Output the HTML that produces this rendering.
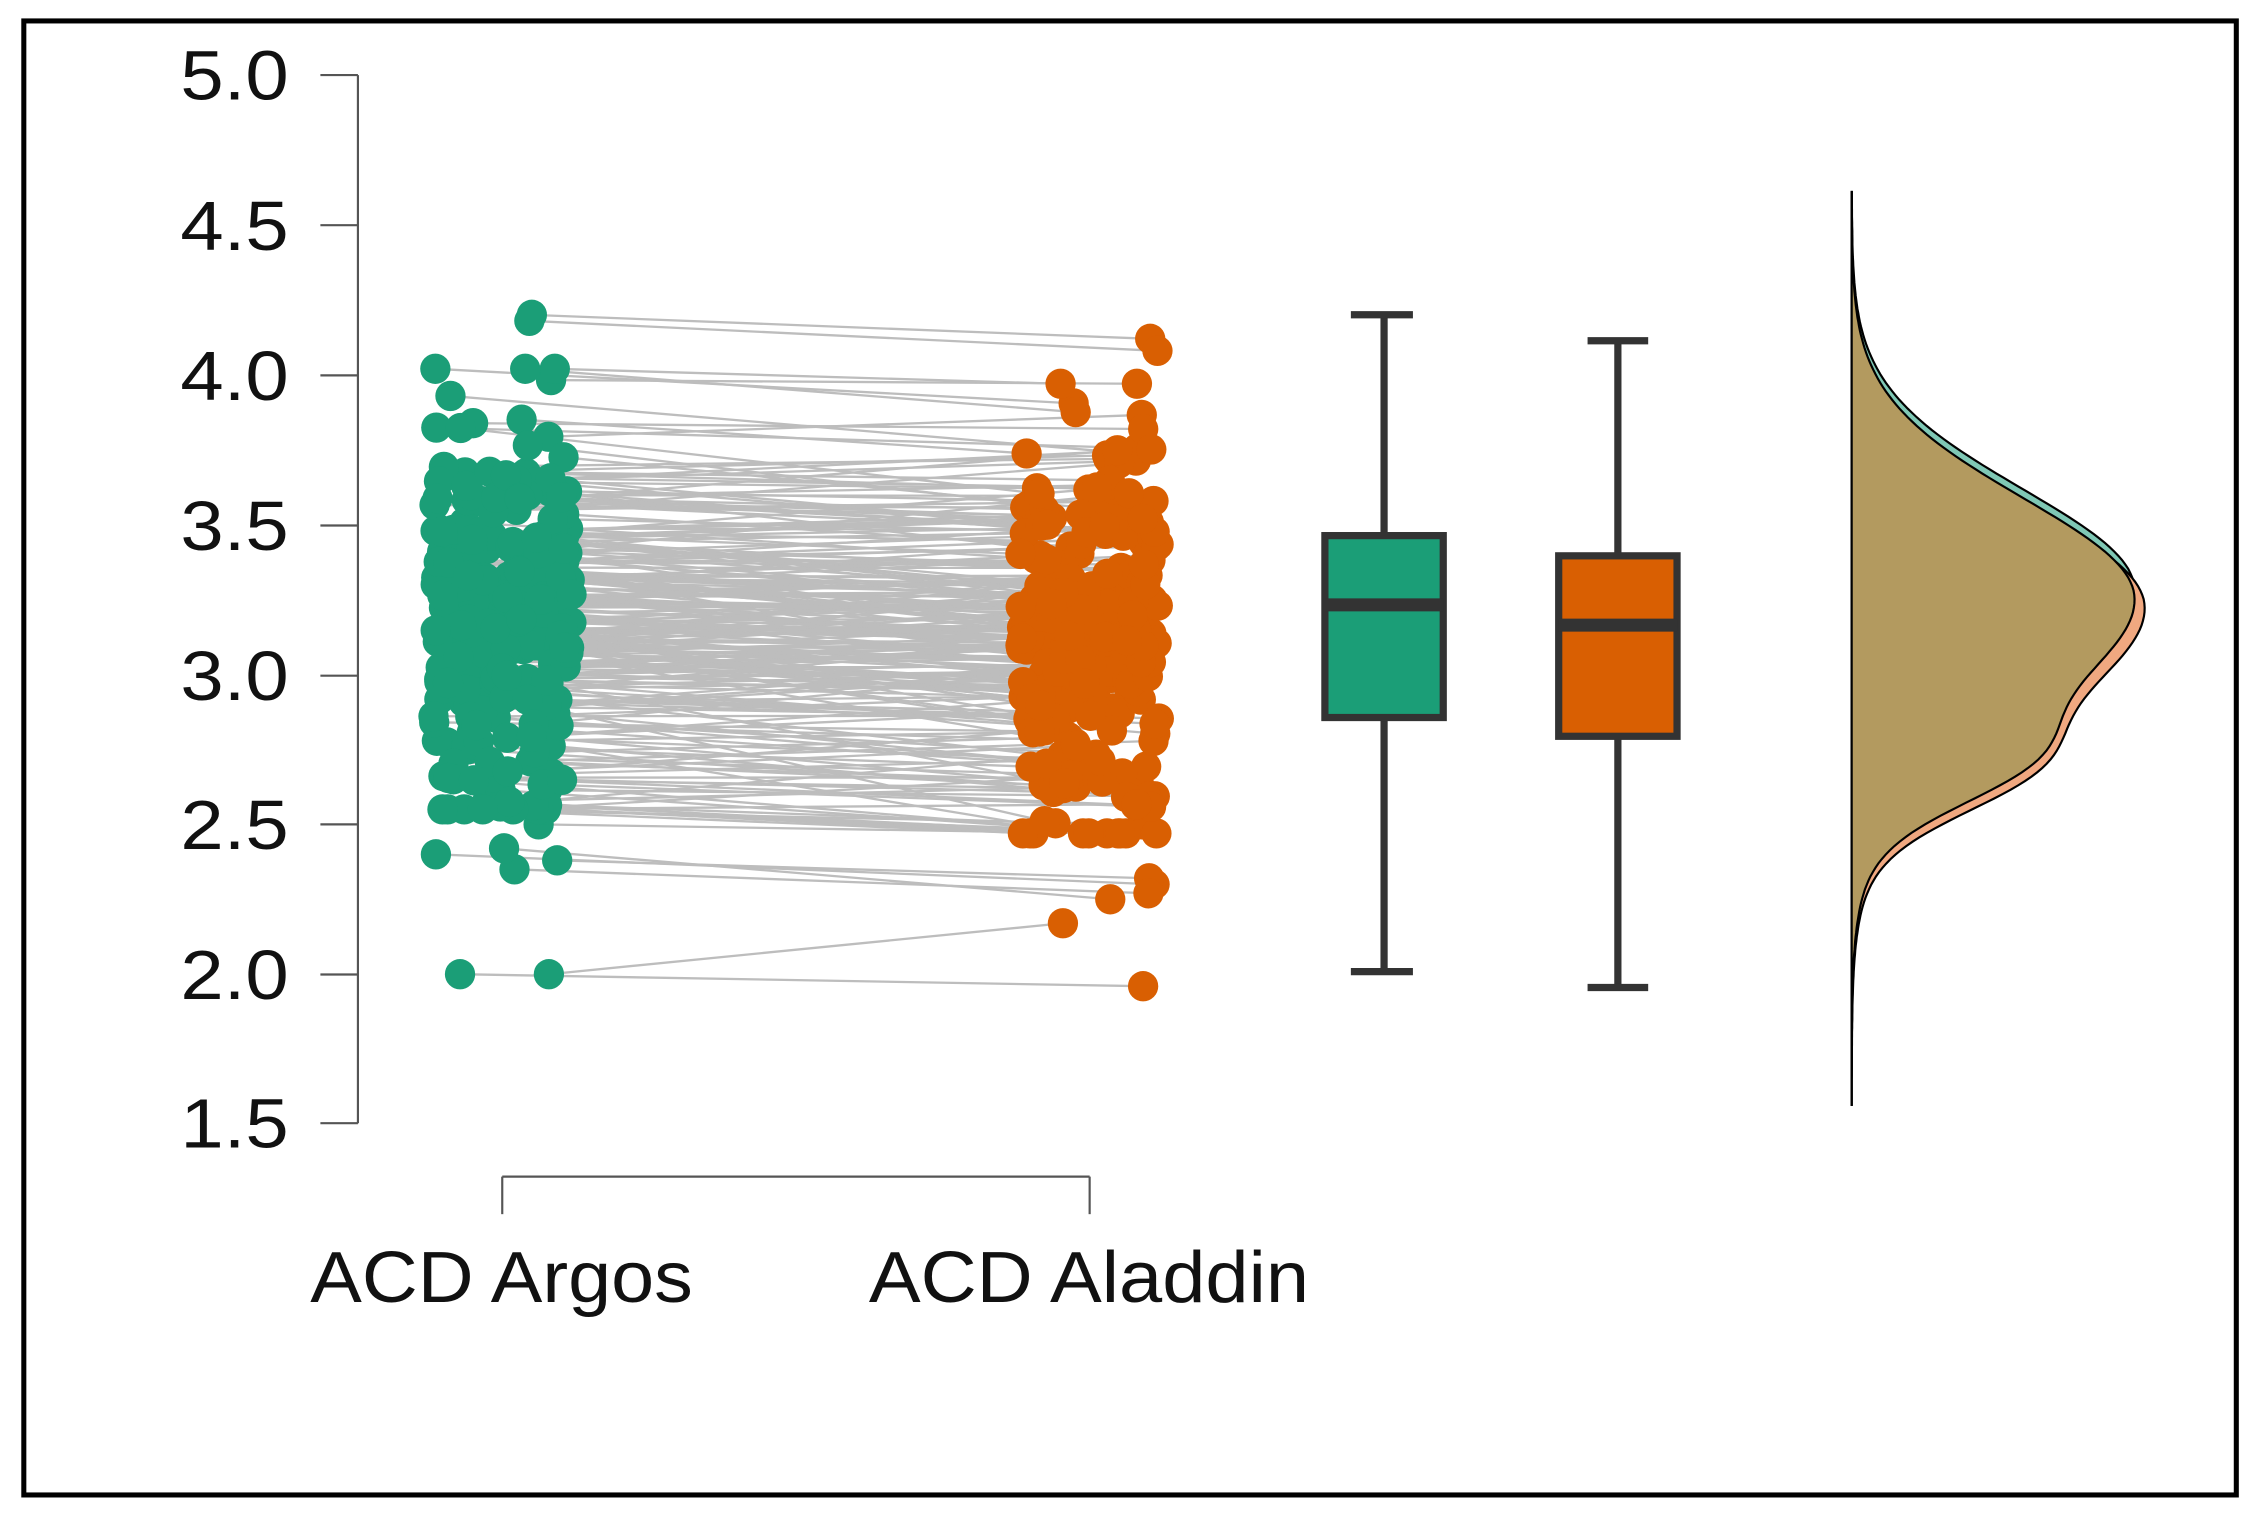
<!DOCTYPE html>
<html><head><meta charset="utf-8">
<style>html,body{margin:0;padding:0;background:#fff;}svg{display:block;}</style>
</head><body>
<svg id="s" width="2263" height="1526" viewBox="0 0 1568 1057" preserveAspectRatio="none" xmlns="http://www.w3.org/2000/svg">
<rect x="0" y="0" width="1568" height="1057" fill="#fff"/>
<rect x="16.5" y="14.5" width="1533" height="1021" fill="none" stroke="#000" stroke-width="3.5"/>
<g stroke="#555" stroke-width="1.5">
<line x1="248" y1="52" x2="248" y2="778"/>
<line x1="222" y1="52" x2="248" y2="52"/>
<line x1="222" y1="156" x2="248" y2="156"/>
<line x1="222" y1="260" x2="248" y2="260"/>
<line x1="222" y1="364" x2="248" y2="364"/>
<line x1="222" y1="468" x2="248" y2="468"/>
<line x1="222" y1="571" x2="248" y2="571"/>
<line x1="222" y1="675" x2="248" y2="675"/>
<line x1="222" y1="778" x2="248" y2="778"/>
<line x1="348" y1="815" x2="755" y2="815"/>
<line x1="348" y1="815" x2="348" y2="841"/>
<line x1="755" y1="815" x2="755" y2="841"/>
</g>
<g font-family="Liberation Sans, sans-serif" font-size="48" fill="#111">
<text x="125" y="69" textLength="75" lengthAdjust="spacingAndGlyphs">5.0</text>
<text x="125" y="173" textLength="75" lengthAdjust="spacingAndGlyphs">4.5</text>
<text x="125" y="277" textLength="75" lengthAdjust="spacingAndGlyphs">4.0</text>
<text x="125" y="381" textLength="75" lengthAdjust="spacingAndGlyphs">3.5</text>
<text x="125" y="485" textLength="75" lengthAdjust="spacingAndGlyphs">3.0</text>
<text x="125" y="588" textLength="75" lengthAdjust="spacingAndGlyphs">2.5</text>
<text x="125" y="692" textLength="75" lengthAdjust="spacingAndGlyphs">2.0</text>
<text x="125" y="795" textLength="75" lengthAdjust="spacingAndGlyphs">1.5</text>
</g>
<g font-family="Liberation Sans, sans-serif" font-size="50" fill="#111">
<text x="215" y="902" textLength="265" lengthAdjust="spacingAndGlyphs">ACD Argos</text>
<text x="602" y="902" textLength="305" lengthAdjust="spacingAndGlyphs">ACD Aladdin</text>
</g>
<g id="lines" stroke="#bdbdbd" stroke-width="1.6"></g>
<g id="pts"></g>
<g stroke="#333" stroke-width="5" fill="none">
<line x1="959" y1="218" x2="959" y2="371"/><line x1="959" y1="497" x2="959" y2="673"/>
<line x1="936" y1="218" x2="979" y2="218"/><line x1="936" y1="673" x2="979" y2="673"/>
<rect x="918" y="371" width="82" height="126" fill="#1b9e77"/>
<line x1="918" y1="419" x2="1000" y2="419" stroke-width="9"/>
<line x1="1121" y1="236" x2="1121" y2="385"/><line x1="1121" y1="510" x2="1121" y2="684"/>
<line x1="1100" y1="236" x2="1142" y2="236"/><line x1="1100" y1="684" x2="1142" y2="684"/>
<rect x="1080" y="385" width="82" height="125" fill="#d95f02"/>
<line x1="1080" y1="433" x2="1162" y2="433" stroke-width="9"/>
</g>
<g id="dens"></g>
</svg>
<script>
(function(){
var seed=12345;function r(){seed=(seed*16807)%2147483647;return seed/2147483647;}
function n(){var u=r()||1e-9,v=r();return Math.sqrt(-2*Math.log(u))*Math.cos(2*Math.PI*v);}
function Y(v){return 52+(5-v)*207.6;}
var NS="http://www.w3.org/2000/svg";
var L=document.getElementById('lines'),P=document.getElementById('pts');
var pairs=[[4.2,4.12],[4.18,4.08],[2.0,2.17],[2.0,1.96],[2.4,2.3],[2.38,2.32],[2.35,2.27],[2.42,2.25],[2.55,2.5],[2.5,2.47]];
for(var i=0;i<260;i++){var a=3.2+n()*0.33;a=Math.max(2.55,Math.min(4.02,a));var b=a-0.04+n()*0.12;b=Math.max(2.47,Math.min(3.97,b));pairs.push([a,b]);}
var gpts=[],opts=[];
pairs.forEach(function(p){var x1=300+r()*96,x2=707+r()*96;var y1=Y(p[0]),y2=Y(p[1]);
var l=document.createElementNS(NS,'line');l.setAttribute('x1',x1);l.setAttribute('y1',y1);l.setAttribute('x2',x2);l.setAttribute('y2',y2);L.appendChild(l);
gpts.push([x1,y1]);opts.push([x2,y2]);});
function dot(x,y,c){var e=document.createElementNS(NS,'circle');e.setAttribute('cx',x);e.setAttribute('cy',y);e.setAttribute('r',10.5);e.setAttribute('fill',c);P.appendChild(e);}
gpts.forEach(function(p){dot(p[0],p[1],'#1b9e77');});
opts.forEach(function(p){dot(p[0],p[1],'#d95f02');});
var D=document.getElementById('dens');
function path(shift,amp,fill){var d='M1283 133';for(var y=133;y<=766;y+=3){var yy=y-shift;var s=yy<415?70:80;
var f=amp*Math.exp(-Math.pow(yy-415,2)/(2*s*s))+55*Math.exp(-Math.pow(yy-530,2)/(2*30*30));d+=' L'+(1283+f).toFixed(1)+' '+y;}
d+=' L1283 766 Z';var e=document.createElementNS(NS,'path');e.setAttribute('d',d);e.setAttribute('fill',fill);e.setAttribute('stroke','#000');e.setAttribute('stroke-width','1.5');D.appendChild(e);}
path(-6,196,'#7fc8b5');
path(6,203,'#f0a880');
path(0,196,'#b39a5f');
})();
</script>
</body></html>
